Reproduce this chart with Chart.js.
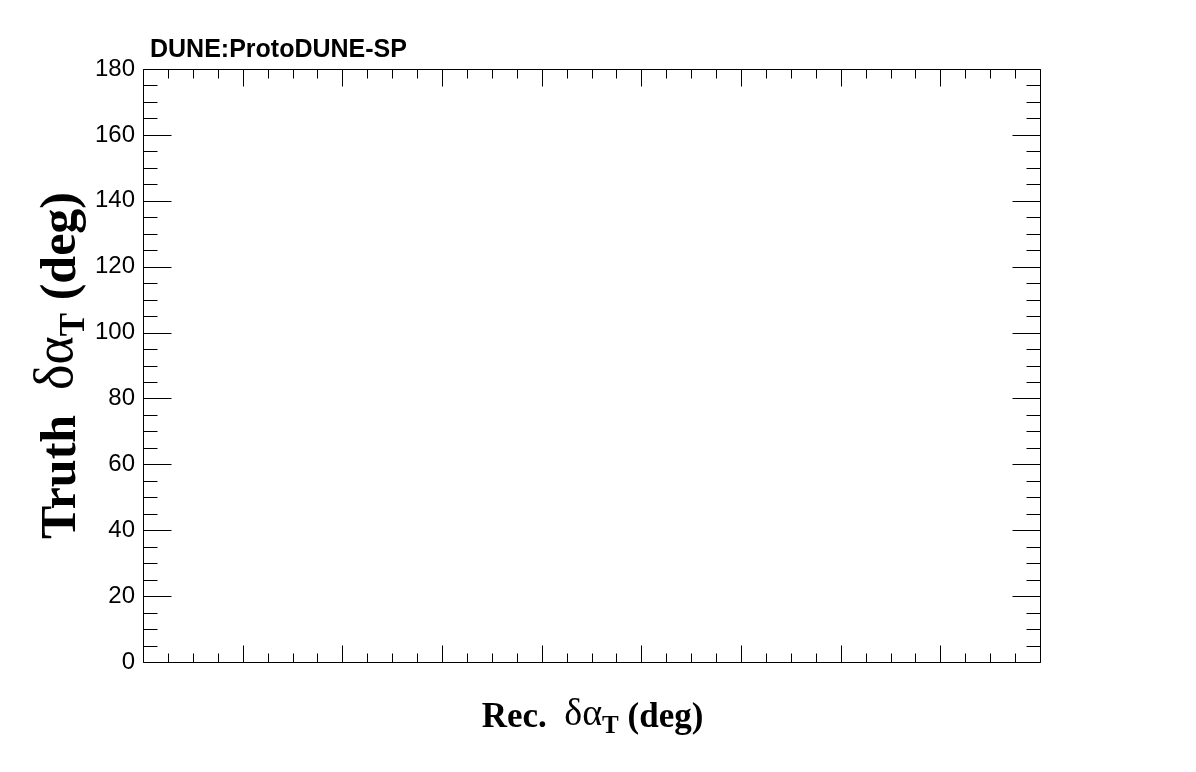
<!DOCTYPE html>
<html>
<head>
<meta charset="utf-8">
<script src="https://cdn.jsdelivr.net/npm/chart.js@4.4.1/dist/chart.umd.min.js"></script>
<style>
  html, body { margin: 0; padding: 0; background: #ffffff; }
  #wrap { width: 1196px; height: 772px; position: relative; }
</style>
</head>
<body>
<div id="wrap"><canvas id="c" width="1196" height="772"></canvas></div>
<script>
// ---- Data (the histogram is empty in the reference) ----
const recDeltaAlphaT = [];      // Rec. δα_T (deg)
const truthDeltaAlphaT = [];    // Truth δα_T (deg)
const xRange = [0, 180];
const yRange = [0, 180];
const majorStep = 20;
const minorStep = 5;
const yTickLabels = [0, 20, 40, 60, 80, 100, 120, 140, 160, 180];
const experimentLabel = 'DUNE:ProtoDUNE-SP';

const points = recDeltaAlphaT.map((x, i) => ({ x: x, y: truthDeltaAlphaT[i] }));

const SERIF = '"Liberation Serif", "Times New Roman", serif';
const SANS = '"Liberation Sans", Arial, Helvetica, sans-serif';

function drawSegments(ctx, segs, x, y) {
  let cx = x;
  for (const s of segs) {
    ctx.font = s.font;
    ctx.fillText(s.text, cx, y + (s.dy || 0));
    cx += ctx.measureText(s.text).width;
  }
}
function segWidth(ctx, segs) {
  let w = 0;
  for (const s of segs) { ctx.font = s.font; w += ctx.measureText(s.text).width; }
  return w;
}

const framePlugin = {
  id: 'rootFrame',
  afterDraw(chart) {
    const ctx = chart.ctx;
    const a = chart.chartArea;
    const xs = chart.scales.x, ys = chart.scales.y;
    ctx.save();
    ctx.strokeStyle = '#000';
    ctx.lineWidth = 1;
    const L = Math.round(a.left) + 0.5, R = Math.round(a.right) + 0.5;
    const T = Math.round(a.top) + 0.5, B = Math.round(a.bottom) + 0.5;
    ctx.beginPath();
    ctx.rect(L, T, R - L, B - T);
    ctx.stroke();

    ctx.beginPath();
    for (let v = xRange[0]; v <= xRange[1] + 1e-9; v += minorStep) {
      const px = Math.round(xs.getPixelForValue(v)) + 0.5;
      const isMajor = Math.abs(v / majorStep - Math.round(v / majorStep)) < 1e-9;
      const len = isMajor ? 17 : 9;
      ctx.moveTo(px, B); ctx.lineTo(px, B - len);
      ctx.moveTo(px, T); ctx.lineTo(px, T + len);
    }
    for (let v = yRange[0]; v <= yRange[1] + 1e-9; v += minorStep) {
      const py = Math.round(ys.getPixelForValue(v)) + 0.5;
      const isMajor = Math.abs(v / majorStep - Math.round(v / majorStep)) < 1e-9;
      const len = isMajor ? 28 : 14;
      ctx.moveTo(L, py); ctx.lineTo(L + len, py);
      ctx.moveTo(R, py); ctx.lineTo(R - len, py);
    }
    ctx.stroke();

    ctx.fillStyle = '#000';
    ctx.textBaseline = 'alphabetic';
    ctx.textAlign = 'left';

    // experiment label
    ctx.font = 'bold 25px ' + SANS;
    ctx.fillText(experimentLabel, 150, 57);

    // x-axis title
    const xSegs = [
      { text: 'Rec.  ', font: 'bold 35px ' + SERIF },
      { text: 'δα', font: '38px ' + SERIF, dy: -2 },
      { text: 'T', font: 'bold 25px ' + SERIF, dy: 6 },
      { text: ' (deg)', font: 'bold 35px ' + SERIF }
    ];
    const xw = segWidth(ctx, xSegs);
    const xc = (a.left + a.right) / 2 + 1;
    drawSegments(ctx, xSegs, xc - xw / 2, 727);

    // y-axis title (rotated)
    const ySegs = [
      { text: 'Truth  ', font: 'bold 50px ' + SERIF },
      { text: 'δα', font: '54px ' + SERIF, dy: -3 },
      { text: 'T', font: 'bold 35px ' + SERIF, dy: 9 },
      { text: ' (deg)', font: 'bold 50px ' + SERIF }
    ];
    const yw = segWidth(ctx, ySegs);
    const yc = (a.top + a.bottom) / 2;
    ctx.translate(75, yc);
    ctx.rotate(-Math.PI / 2);
    drawSegments(ctx, ySegs, -yw / 2, 0);
    ctx.restore();
  }
};

new Chart(document.getElementById('c'), {
  type: 'scatter',
  data: {
    datasets: [{
      label: 'Truth vs Rec.',
      data: points,
      pointRadius: 1,
      backgroundColor: '#000'
    }]
  },
  options: {
    responsive: false,
    animation: false,
    devicePixelRatio: 1,
    layout: { padding: { left: 0, top: 69, right: 156, bottom: 0 } },
    plugins: {
      legend: { display: false },
      title: { display: false },
      tooltip: { enabled: false }
    },
    scales: {
      x: {
        type: 'linear',
        min: xRange[0], max: xRange[1],
        grid: { display: false, drawTicks: false },
        border: { display: false },
        ticks: { display: false, stepSize: majorStep },
        afterFit(s) { s.height = 110; }
      },
      y: {
        type: 'linear',
        min: yRange[0], max: yRange[1],
        grid: { display: false, drawTicks: false },
        border: { display: false },
        afterFit(s) { s.width = 143; },
        afterBuildTicks(s) { s.ticks = yTickLabels.map(v => ({ value: v })); },
        ticks: {
          padding: 8,
          color: '#000',
          font: { family: SANS, size: 24 },
          callback: (v) => String(v)
        }
      }
    }
  },
  plugins: [framePlugin]
});
</script>
</body>
</html>
